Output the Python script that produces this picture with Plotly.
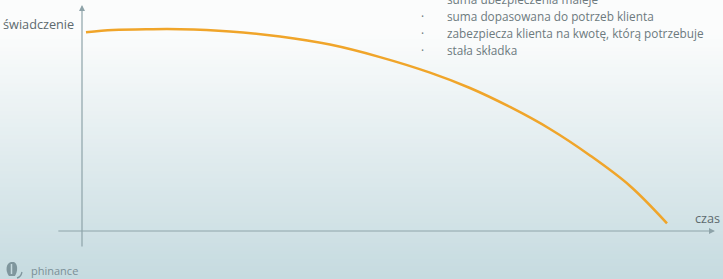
import plotly.graph_objects as go

# Data (abstract units: time 0..100, benefit 0..100)
czas = [0.68, 5.3, 11.62, 16.75, 25.3, 33.85, 42.39, 50.94, 59.49, 66.32, 73.16, 80.0, 86.84, 93.68, 100.0]
swiadczenie = [98.4, 99.5, 99.9, 99.9, 98.8, 96.3, 92.3, 86.1, 78.4, 70.8, 61.4, 50.5, 37.4, 22.3, 3.8]
bullets = [
    "suma ubezpieczenia maleje",
    "suma dopasowana do potrzeb klienta",
    "zabezpiecza klienta na kwotę, którą potrzebuje",
    "stała składka",
]
y_label = "świadczenie"
x_label = "czas"
brand = "phinance"

W, H = 723, 279
ax_col = "#8ea3a9"
txt_col = "#5d6a6e"

fig = go.Figure()
fig.add_trace(go.Scatter(
    x=czas, y=swiadczenie, mode="lines",
    line=dict(color="#f0a52a", width=2.5, shape="spline", smoothing=1.0),
    hoverinfo="skip", showlegend=False))

shapes = []
# gradient background
n = 70
top = (251, 252, 252)
bot = (198, 219, 224)
for i in range(n):
    f = i / (n - 1)
    g = min(1.0, max(0.0, (f - 0.12) / 0.88))
    c = tuple(int(round(top[k] + (bot[k] - top[k]) * g)) for k in range(3))
    shapes.append(dict(type="rect", xref="paper", yref="paper", x0=0, x1=1,
                       y0=1 - (i + 1) / n - 0.002, y1=1 - i / n + 0.002,
                       fillcolor="rgb(%d,%d,%d)" % c, line=dict(width=0), layer="below"))
# logo icon (pixel-based path converted to paper coords)
def P(x, y):
    return "%.4f,%.4f" % (x / W, 1 - y / H)
shapes.append(dict(type="path", xref="paper", yref="paper", layer="above",
                   path="M %s C %s %s %s L %s C %s %s %s Z" % (
                       P(9, 276), P(5, 271), P(6, 263), P(11, 262), P(14, 262),
                       P(18, 264), P(18, 271), P(15, 276)),
                   fillcolor="#7f969d", line=dict(width=0)))
shapes.append(dict(type="path", xref="paper", yref="paper", layer="above",
                   path="M %s L %s" % (P(11.5, 264), P(11.5, 274)),
                   line=dict(color="#c6dadf", width=1.5)))
shapes.append(dict(type="path", xref="paper", yref="paper", layer="above",
                   path="M %s Q %s %s" % (P(17, 278), P(21, 277), P(22, 272)),
                   line=dict(color="#7f969d", width=1.3)))

fig.update_layout(shapes=shapes)

annotations = []
# axes with arrows
annotations.append(dict(x=0, y=111.9, ax=0, ay=-8.4, xref="x", yref="y", axref="x", ayref="y",
                        showarrow=True, arrowhead=2, arrowsize=1, arrowwidth=1.2, arrowcolor=ax_col, text=""))
annotations.append(dict(x=108.2, y=0, ax=-4.3, ay=0, xref="x", yref="y", axref="x", ayref="y",
                        showarrow=True, arrowhead=2, arrowsize=1, arrowwidth=1.2, arrowcolor=ax_col, text=""))
annotations.append(dict(x=-1.1, y=102.5, xref="x", yref="y", text=y_label, showarrow=False,
                        xanchor="right", yanchor="middle", font=dict(family="Open Sans", size=12.7, color=txt_col)))
annotations.append(dict(x=109.4, y=6.5, xref="x", yref="y", text=x_label, showarrow=False,
                        xanchor="right", yanchor="middle", font=dict(family="Open Sans", size=12.7, color=txt_col)))
for i, b in enumerate(bullets):
    ypx = -1 + 17 * i
    annotations.append(dict(x=445 / W, y=1 - ypx / H, xref="paper", yref="paper", text=b, showarrow=False,
                            xanchor="left", yanchor="middle", font=dict(family="Open Sans", size=11.8, color="#6d7a7e")))
    annotations.append(dict(x=422 / W, y=1 - ypx / H, xref="paper", yref="paper", text="·", showarrow=False,
                            xanchor="center", yanchor="middle", font=dict(family="Open Sans", size=11.8, color="#6d7a7e")))
annotations.append(dict(x=29 / W, y=1 - 270 / H, xref="paper", yref="paper", text=brand, showarrow=False,
                        xanchor="left", yanchor="middle", font=dict(family="Open Sans", size=11, color="#7a8f96")))
fig.update_layout(annotations=annotations)

fig.update_layout(
    width=W, height=H, margin=dict(l=0, r=0, t=0, b=0),
    paper_bgcolor="white", plot_bgcolor="rgba(0,0,0,0)",
    xaxis=dict(range=[-82 / 5.85, (W - 82) / 5.85], visible=False, fixedrange=True),
    yaxis=dict(range=[(231 - H) / 2.02, 231 / 2.02], visible=False, fixedrange=True),
)

fig.write_html("out.html", config={"displayModeBar": False},
               post_script="document.body.style.margin='0px';document.body.style.overflow='hidden';")
